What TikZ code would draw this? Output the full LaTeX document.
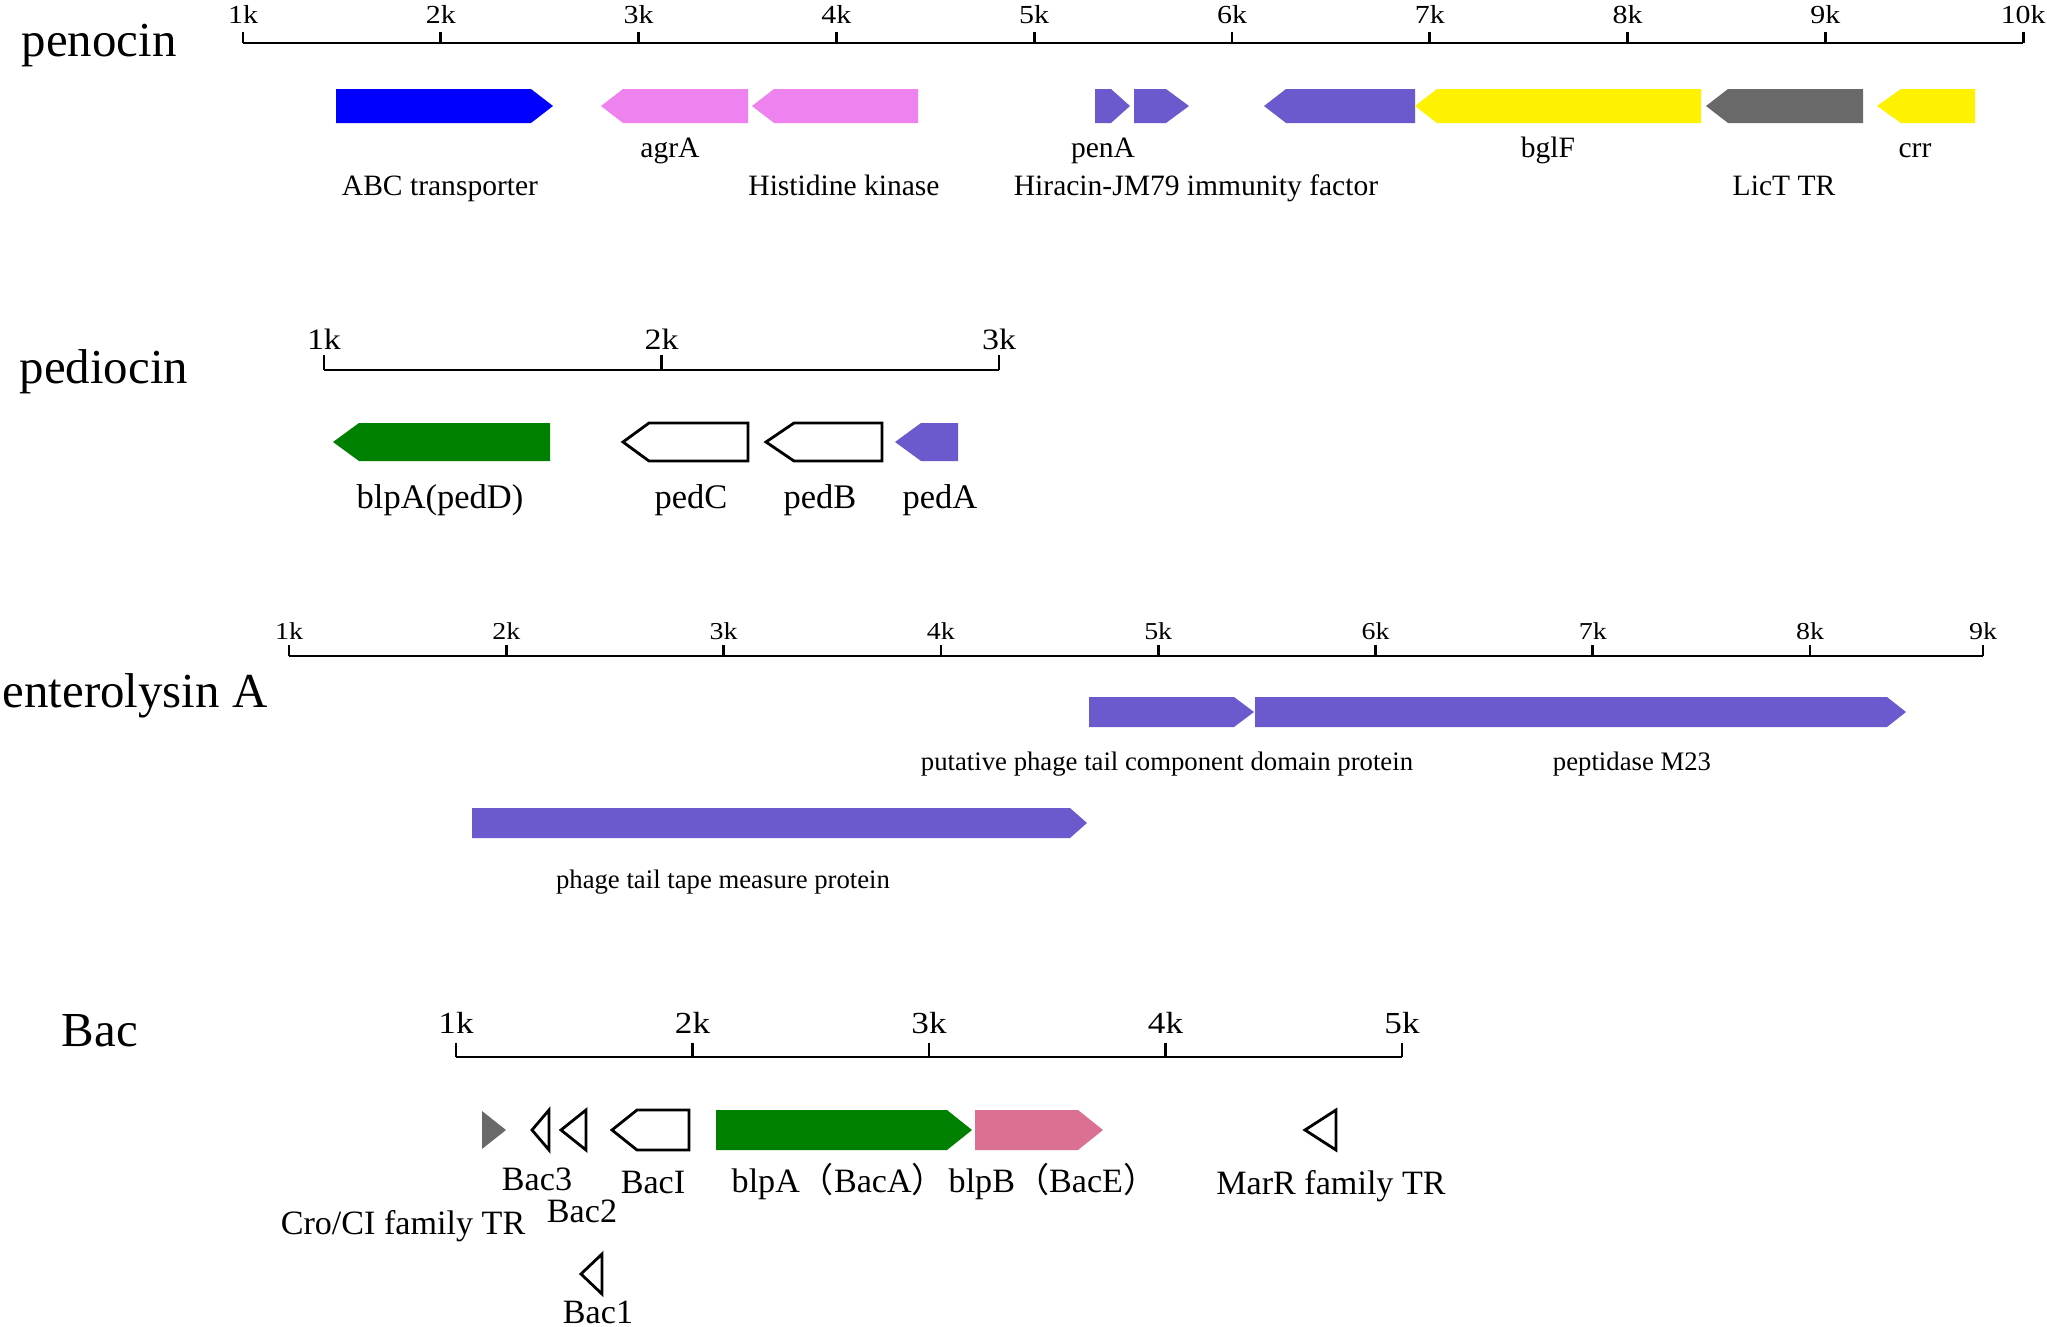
\documentclass[tikz,border=0pt]{standalone}
\usepackage{fontspec}
\setmainfont{Liberation Serif}
\newfontfamily\tickfont[FakeStretch=1.15]{Liberation Serif}
\newfontfamily\cjk{Noto Sans CJK SC}
\usepackage{tikz}
\definecolor{slate}{HTML}{6A5ACD}
\definecolor{pviolet}{HTML}{EE82EE}
\definecolor{dgray}{HTML}{696969}
\definecolor{dgreen}{HTML}{008000}
\definecolor{pvred}{HTML}{DB7093}

\begin{document}
\begin{tikzpicture}[x=0.01cm, y=-0.01cm,
    axis/.style={line width=0.75pt},
    open/.style={draw=black, fill=white, line width=0.8pt, line join=miter},
    title/.style={font=\fontsize{13.9}{16}\selectfont, anchor=base west, inner sep=0},
    lbl/.style={anchor=base, inner sep=0},
    penlbl/.style={lbl, font=\fontsize{8.4}{10}\selectfont},
    pedlbl/.style={lbl, font=\fontsize{9.8}{12}\selectfont},
    entlbl/.style={lbl, font=\fontsize{7.6}{9}\selectfont},
    baclbl/.style={lbl, font=\fontsize{9.7}{11}\selectfont},
    penax/.style={lbl, font=\tickfont\fontsize{7.4}{9}\selectfont},
    pedax/.style={lbl, font=\tickfont\fontsize{8.4}{10}\selectfont},
    entax/.style={lbl, font=\tickfont\fontsize{6.9}{8}\selectfont},
    bacax/.style={lbl, font=\tickfont\fontsize{8.7}{10}\selectfont}]
    \useasboundingbox (0,0) rectangle (2047,1327);

    % penocin
    \node[title] (pen) at (21,57) {penocin};
    \coordinate (penS) at (243,43);
    \coordinate (penE) at (2023,43);
    \draw[axis] (penS) -- (penE);
    \foreach \k in {1,...,10}{
      \draw[axis] ({243+197.8*(\k-1)},43) -- ({243+197.8*(\k-1)},32);
      \node[penax] (pa\k) at ({243+197.8*(\k-1)},24) {\k k};
    }
    \foreach \s/\b/\t/\c in {336/531/553/blue, 748/623/601/pviolet, 918/774/752/pviolet,
        1095/1111/1130/slate, 1134/1166/1189/slate, 1415/1286/1264/slate,
        1701/1437/1415/yellow, 1863/1728/1706/dgray, 1975/1901/1877/yellow}
      \fill[\c] (\s,89) -- (\b,89) -- (\t,106) -- (\b,123) -- (\s,123) -- cycle;
    \node[penlbl] (agra) at (670,157) {agrA};
    \node[penlbl] (pena) at (1103,157) {penA};
    \node[penlbl] (bglf) at (1548,157) {bglF};
    \node[penlbl] (crr) at (1915,157) {crr};
    \node[penlbl] (abc) at (440,195) {ABC transporter};
    \node[penlbl] (hk) at (844,195) {Histidine kinase};
    \node[penlbl] (hir) at (1196,195) {Hiracin-JM79 immunity factor};
    \node[penlbl] (lict) at (1784,195) {LicT TR};

    % pediocin
    \node[title] (ped) at (19,383) {pediocin};
    \coordinate (pedS) at (324,370);
    \coordinate (pedE) at (999,370);
    \draw[axis] (pedS) -- (pedE);
    \foreach \k in {1,2,3}{
      \draw[axis] ({324+337.5*(\k-1)},370) -- ({324+337.5*(\k-1)},355);
      \node[pedax] (pb\k) at ({324+337.5*(\k-1)},349) {\k k};
    }
    \fill[dgreen] (550,423) -- (359,423) -- (333,442) -- (359,461) -- (550,461) -- cycle;
    \foreach \s/\b/\t in {748/649/623, 882/794/766}
      \path[open] (\s,423) -- (\b,423) -- (\t,442) -- (\b,461) -- (\s,461) -- cycle;
    \fill[slate] (958,423) -- (921,423) -- (895,442) -- (921,461) -- (958,461) -- cycle;
    \node[pedlbl] (pedd) at (440,508) {blpA(pedD)};
    \node[pedlbl] (pedc) at (691,508) {pedC};
    \node[pedlbl] (pedb) at (820,508) {pedB};
    \node[pedlbl] (peda) at (940,508) {pedA};

    % enterolysin A
    \node[title] (ent) at (2,707) {enterolysin A};
    \coordinate (entS) at (289,656);
    \coordinate (entE) at (1983,656);
    \draw[axis] (entS) -- (entE);
    \foreach \k in {1,...,8}{
      \draw[axis] ({289+217.3*(\k-1)},656) -- ({289+217.3*(\k-1)},645);
      \node[entax] (ea\k) at ({289+217.3*(\k-1)},639) {\k k};
    }
    \draw[axis] (entE) -- (1983,645);
    \node[entax] (ea9) at (1983,639) {9k};
    \foreach \s/\b/\t/\m in {1089/1234/1254/712, 1255/1887/1906/712, 472/1070/1087/823}
      \fill[slate] (\s,\m-15) -- (\b,\m-15) -- (\t,\m) -- (\b,\m+15) -- (\s,\m+15) -- cycle;
    \node[entlbl] (ptc) at (1167,770) {putative phage tail component domain protein};
    \node[entlbl] (m23) at (1632,770) {peptidase M23};
    \node[entlbl] (tmp) at (723,888) {phage tail tape measure protein};

    % Bac
    \node[title] (bac) at (61,1046) {Bac};
    \coordinate (bacS) at (456,1057);
    \coordinate (bacE) at (1402,1057);
    \draw[axis] (bacS) -- (bacE);
    \foreach \k in {1,...,5}{
      \draw[axis] ({456+236.5*(\k-1)},1057) -- ({456+236.5*(\k-1)},1043);
      \node[bacax] (ba\k) at ({456+236.5*(\k-1)},1033) {\k k};
    }
    \fill[dgray] (482,1111) -- (506,1130) -- (482,1149) -- cycle;
    \foreach \s/\t/\m in {549/532/1130, 586/561/1130, 1336/1305/1130, 602/581/1274}
      \path[open] (\s,\m-20) -- (\t,\m) -- (\s,\m+20) -- cycle;
    \path[open] (689,1110) -- (637,1110) -- (612,1130) -- (637,1150) -- (689,1150) -- cycle;
    \fill[dgreen] (716,1110) -- (947,1110) -- (972,1130) -- (947,1150) -- (716,1150) -- cycle;
    \fill[pvred] (975,1110) -- (1078,1110) -- (1103,1130) -- (1078,1150) -- (975,1150) -- cycle;
    \node[baclbl] (bac3) at (537,1190) {Bac3};
    \node[baclbl] (baci) at (653,1193) {BacI};
    \node[baclbl, anchor=base west] (baca) at (731,1192) {blpA{\cjk （}BacA{\cjk ）}};
    \node[baclbl, anchor=base west] (bace) at (948,1192) {blpB{\cjk （}BacE{\cjk ）}};
    \node[baclbl] (marr) at (1331,1194) {MarR family TR};
    \node[baclbl] (bac2) at (582,1222) {Bac2};
    \node[baclbl] (cro) at (403,1234) {Cro/CI family TR};
    \node[baclbl] (bac1) at (598,1323) {Bac1};
\end{tikzpicture}
\end{document}
